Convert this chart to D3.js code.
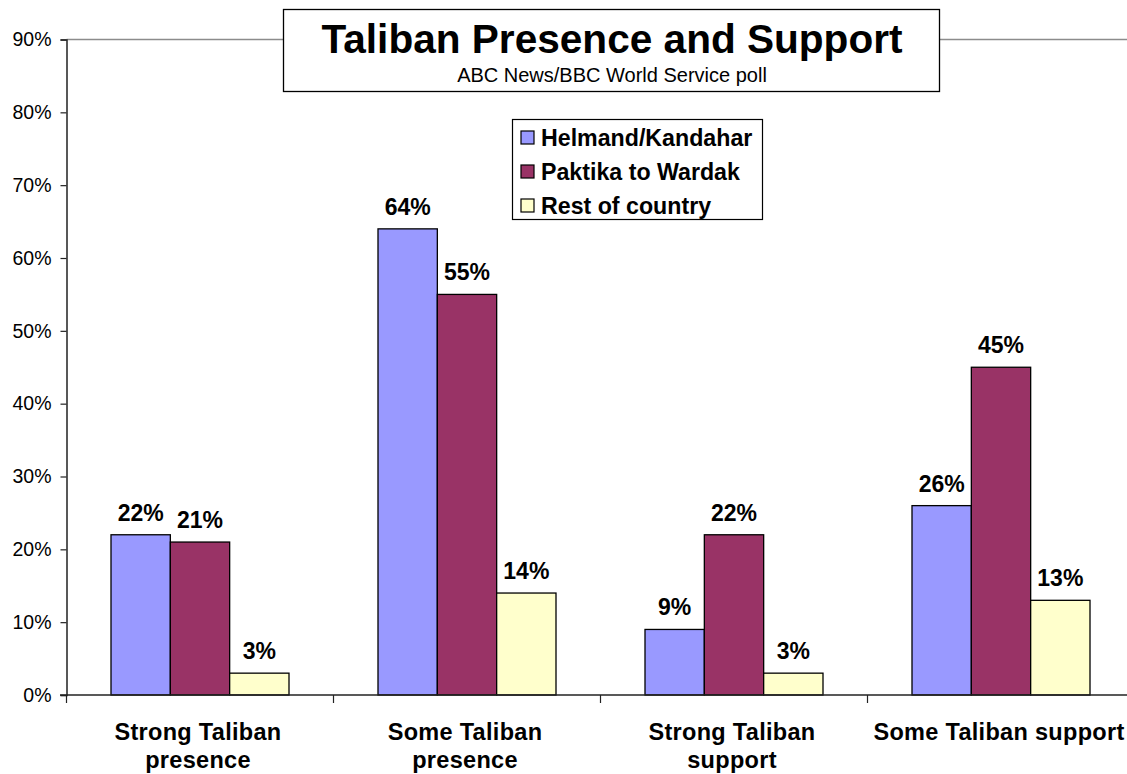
<!DOCTYPE html>
<html><head><meta charset="utf-8">
<script src="https://cdn.jsdelivr.net/npm/d3@7"></script>
<style>body{margin:0;background:#fff}svg{display:block;font-family:"Liberation Sans",Arial,sans-serif}</style>
</head><body><svg id="c" width="1127" height="774"></svg>
<script>
const categories = [["Strong Taliban","presence"],["Some Taliban","presence"],["Strong Taliban","support"],["Some Taliban support"]];
const seriesNames = ["Helmand/Kandahar","Paktika to Wardak","Rest of country"];
const helmand = [22, 64, 9, 26];
const paktika = [21, 55, 22, 45];
const rest = [3, 14, 3, 13];
const seriesValues = [helmand, paktika, rest];
const colors = ["#9999FF","#993366","#FFFFCC"];
const yTicks = [0,10,20,30,40,50,60,70,80,90];
const chartTitle = "Taliban Presence and Support";
const chartSubtitle = "ABC News/BBC World Service poll";

(function(){
const svg = d3.select("#c");
const pl = 66.5, pr = 1134.5, pt = 39.5, pb = 695;
const catKeys = categories.map((c,i)=>i);
const x0 = d3.scaleBand().domain(catKeys).range([pl,pr]).padding(0);
const x1 = d3.scaleBand().domain(d3.range(seriesNames.length)).range([0,x0.bandwidth()]).paddingInner(0).paddingOuter(0.75);
const y = d3.scaleLinear().domain([0,90]).range([pb,pt]);

// top border
svg.append("line").attr("x1",pl).attr("x2",1127).attr("y1",pt).attr("y2",pt).attr("stroke","#8c8c8c").attr("stroke-width",1.5);

// y axis
const yAxis = svg.append("g").attr("transform",`translate(${pl},0)`)
  .call(d3.axisLeft(y).tickValues(yTicks).tickFormat(d=>d+"%").tickSize(6).tickPadding(9));
yAxis.select(".domain").attr("stroke","#222").attr("stroke-width",1.5);
yAxis.selectAll(".tick line").attr("stroke","#222").attr("stroke-width",1.2);
yAxis.selectAll("text").attr("font-size","19.5px").attr("fill","#000").attr("font-family","Liberation Sans, Arial, sans-serif");

// bars
seriesValues.forEach((vals,s)=>{
  svg.append("g").selectAll("rect").data(vals).join("rect")
    .attr("x",(d,i)=>x0(i)+x1(s))
    .attr("width",x1.bandwidth())
    .attr("y",d=>y(d))
    .attr("height",d=>y(0)-y(d))
    .attr("fill",colors[s]).attr("stroke","#000").attr("stroke-width",1.3);
  svg.append("g").selectAll("text").data(vals).join("text")
    .attr("x",(d,i)=>x0(i)+x1(s)+x1.bandwidth()/2)
    .attr("y",d=>y(d)-14)
    .attr("text-anchor","middle").attr("font-weight","bold").attr("font-size","23px")
    .text(d=>d+"%");
});

// x axis
const xAxisG = svg.append("g");
xAxisG.append("line").attr("x1",60).attr("x2",1127).attr("y1",pb).attr("y2",pb).attr("stroke","#222").attr("stroke-width",1.5);
xAxisG.selectAll("line.t").data(d3.range(categories.length+1)).join("line").attr("class","t")
  .attr("x1",d=>pl+d*x0.step()).attr("x2",d=>pl+d*x0.step())
  .attr("y1",pb).attr("y2",pb+8).attr("stroke","#222").attr("stroke-width",1.2);
categories.forEach((lines,i)=>{
  const cx = x0(i)+x0.bandwidth()/2 - 2;
  const t = svg.append("text").attr("text-anchor","middle").attr("font-weight","bold").attr("font-size","23.5px")
    .attr("letter-spacing","0.3px")
    .attr("x",cx).attr("y",740);
  lines.forEach((l,j)=>t.append("tspan").attr("x",cx).attr("dy",j?28:0).text(l));
});

// title box
svg.append("rect").attr("x",283.5).attr("y",9.5).attr("width",656).attr("height",82).attr("fill","#fff").attr("stroke","#000").attr("stroke-width",1.3);
svg.append("text").attr("x",612).attr("y",53).attr("text-anchor","middle").attr("font-weight","bold").attr("font-size","40.6px").text(chartTitle);
svg.append("text").attr("x",612).attr("y",82).attr("text-anchor","middle").attr("font-size","20px").text(chartSubtitle);

// legend
const lg = svg.append("g");
lg.append("rect").attr("x",512.5).attr("y",119.5).attr("width",250).attr("height",100).attr("fill","#fff").attr("stroke","#000").attr("stroke-width",1.2);
seriesNames.forEach((n,i)=>{
  const cy = 137.5 + i*34;
  lg.append("rect").attr("x",521).attr("y",cy-6.5).attr("width",13).attr("height",13).attr("fill",colors[i]).attr("stroke","#000").attr("stroke-width",1.2);
  lg.append("text").attr("x",541).attr("y",cy+8).attr("font-weight","bold").attr("font-size","23.2px").text(n);
});
})();
</script></body></html>
